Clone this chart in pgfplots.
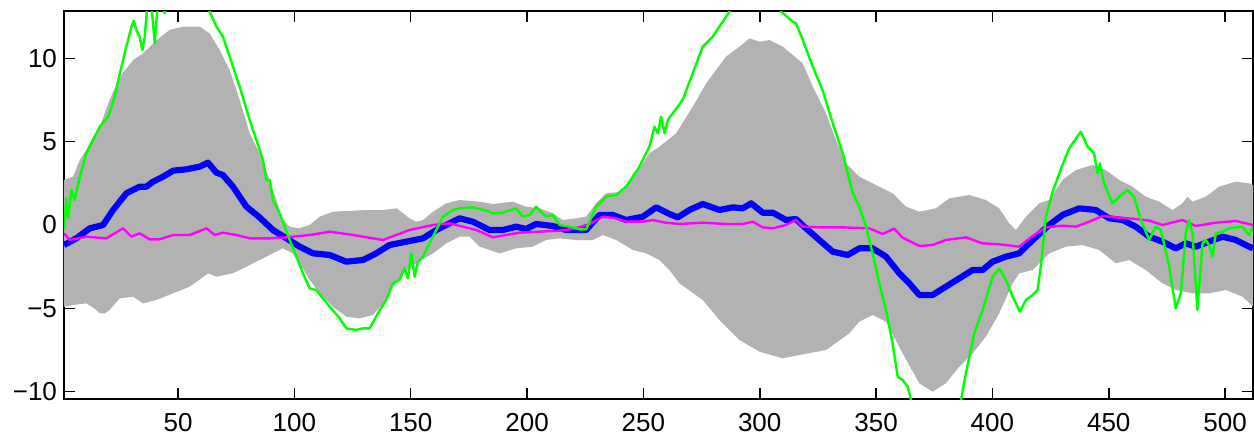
\documentclass[border=0pt]{standalone}
\usepackage{fontspec}
\setmainfont{Liberation Sans}
\usepackage{pgfplots}
\pgfplotsset{compat=1.18}
\usepgfplotslibrary{fillbetween}

\definecolor{bandgray}{rgb}{0.70,0.70,0.70}
\definecolor{pureblue}{rgb}{0,0,1}
\definecolor{puremagenta}{rgb}{1,0,1}
\definecolor{puregreen}{rgb}{0,1,0}

\begin{document}
\begin{tikzpicture}
\begin{axis}[
    scale only axis,
    width=594.5pt,
    height=194pt,
    xmin=1, xmax=512,
    ymin=-10.44, ymax=12.84,
    xtick={50,100,...,500},
    ytick={-10,-5,0,5,10},
    yticklabels={−10,−5,0,5,10},
    tick align=inside,
    major tick length=5.5pt,
    axis line style={line width=0.8pt},
    every tick/.style={black, line width=0.8pt},
    tick label style={font=\fontsize{13}{15}\selectfont},
    /pgf/number format/assume math mode=true,
    xticklabel shift=3.5pt,
    clip=true,
]

% spread band
\addplot[name path=upper, draw=none] coordinates {
(1,2.7)(4.9,2.9)(7.8,3.9)(10.6,4.5)(13.5,5.3)(16.4,5.9)(20.6,7.5)(25,8.9)(30.7,9.9)(35,10.3)
(40.8,11.1)(46.4,11.7)(52.2,11.9)(59.3,11.9)(63.6,11.5)(67.9,10.5)(72.2,9.3)(76.5,7.5)(80.8,5.5)
(85.1,4.3)(89.4,2.7)(92.3,1.5)(95,0.3)(98,-0.1)(102,-0.2)(106.6,0.0)(110.9,0.5)(116.6,0.8)
(123.7,0.85)(131,0.9)(138,0.9)(144,1.0)(146.7,0.7)(149.5,0.4)(152.4,0.2)(155.3,0.3)(159.6,0.8)
(165.3,1.3)(171,1.5)(179.6,1.4)(185.3,1.26)(193.9,1.4)(199.6,1.1)(205.4,1.0)(211.1,0.7)
(215.4,0.3)(221.1,0.4)(225.4,0.5)(229.7,1.3)(234,1.9)(241.2,2.0)(246.9,3.1)(252.6,4.3)
(256.9,4.7)(264.1,5.5)(271.2,7.1)(277,8.5)(285.5,10.1)(291.3,10.7)(295.6,11.2)(299.9,11.0)
(304.2,11.1)(309.9,10.7)(314.2,10.2)(318.5,9.7)(322.8,8.3)(328.5,6.7)(332.8,5.1)(337.1,3.7)
(342.8,2.9)(347.1,2.6)(351.4,2.3)(357.1,1.9)(362.9,1.1)(368.6,0.8)(375.7,1.0)(381.5,1.6)
(390.1,1.8)(397.2,1.5)(402.9,1.0)(407.2,0.1)(410.1,-0.3)(414.4,0.5)(420.1,1.3)(424.4,1.5)
(430.1,2.7)(435.9,3.3)(443,3.6)(448.7,3.3)(454.5,2.7)(460.2,2.3)(465.9,1.7)(471.7,1.4)
(477.4,0.9)(481.7,1.3)(483.8,1.7)(486,1.4)(491.7,1.7)(497.4,2.3)(504.6,2.6)(510.3,2.5)(512,2.4)
};
\addplot[name path=lower, draw=none] coordinates {
(1,-4.9)(5,-4.8)(10.6,-4.7)(14,-5.0)(16.4,-5.3)(18.5,-5.3)(20.6,-5.1)(23,-4.7)(25,-4.4)
(30.6,-4.3)(35,-4.7)(40.7,-4.5)(47.8,-4.1)(55,-3.7)(61,-3.1)(63,-2.9)(66.5,-3.1)(73.5,-2.9)
(79.4,-2.5)(85.1,-2.1)(90.7,-1.7)(95,-1.4)(99.3,-1.7)(102.3,-2.3)(106.6,-3.3)(110.9,-4.1)
(116.6,-4.9)(122.3,-5.5)(128,-5.6)(133.8,-5.4)(138.1,-4.7)(142.4,-3.7)(146.7,-2.9)(152.4,-2.3)
(159.6,-1.7)(165.3,-1.1)(171,-0.7)(175.3,-0.7)(179.6,-1.3)(188.2,-1.7)(195.3,-1.4)(202.5,-1.3)
(208.2,-0.9)(213.9,-0.8)(221.1,-0.9)(228.3,-0.9)(232.6,-0.6)(238.3,-0.9)(245.5,-1.5)(251.2,-1.7)
(256.9,-2.1)(261.2,-2.7)(265.5,-3.5)(275.5,-4.5)(282.7,-5.7)(291.3,-6.9)(299.9,-7.6)(309.9,-8.0)
(317,-7.8)(328.5,-7.5)(338.5,-6.5)(342.8,-5.8)(348.5,-5.4)(354.3,-5.8)(361.4,-7.7)(368.6,-9.5)
(374.3,-10.0)(380,-9.5)(385.8,-8.5)(391.5,-7.7)(397.2,-6.7)(402.9,-5.3)(408.7,-3.5)(411.5,-2.9)
(417.3,-2.7)(424.4,-1.7)(431.6,-1.3)(438.7,-1.2)(445.9,-1.5)(453,-2.3)(458.8,-2.1)(465.9,-2.7)
(473.1,-3.5)(478.8,-3.9)(486,-4.1)(493.1,-4.1)(500.3,-3.9)(507.5,-4.3)(512,-4.9)
};
\addplot[bandgray, draw=none] fill between[of=upper and lower];

% mean (thick blue)
\addplot[pureblue, line width=3.1pt, line join=round] coordinates {
(1,-1.2)(6.3,-0.8)(12.1,-0.2)(17.8,0.0)(22.1,0.9)(27.8,1.9)(33.5,2.3)(36.4,2.3)(39.3,2.6)
(43.6,2.9)(47.9,3.26)(53.6,3.34)(59.3,3.5)(62.9,3.74)(66.5,3.14)(69.3,3.0)(73.6,2.3)(79.4,1.1)
(85.1,0.45)(90.8,-0.3)(96.6,-0.8)(102.3,-1.3)(108,-1.7)(115.2,-1.8)(122.3,-2.2)(129.5,-2.1)
(135.2,-1.7)(140.9,-1.2)(148.1,-1.0)(155.3,-0.8)(161,-0.3)(166.7,0.1)(171,0.4)(176.7,0.2)
(183.9,-0.3)(189.6,-0.3)(195.3,-0.1)(199.6,-0.24)(203.9,0.06)(211.1,-0.06)(216.8,-0.3)
(225.4,-0.3)(231.1,0.6)(236.9,0.6)(242.6,0.3)(249.8,0.5)(255.5,1.06)(261.2,0.66)(264.8,0.46)
(269.8,0.9)(275.5,1.26)(282.7,0.9)(288.4,1.06)(292.7,1.0)(296.3,1.3)(301.3,0.74)(305.6,0.74)
(311.3,0.3)(315.6,0.36)(319.9,-0.2)(325.6,-0.9)(331.4,-1.6)(337.8,-1.8)(342.8,-1.4)(348.5,-1.4)
(354.3,-1.9)(360,-2.9)(364.3,-3.5)(368.6,-4.2)(374.3,-4.2)(380,-3.7)(385.8,-3.2)(391.5,-2.7)
(395.8,-2.7)(400.1,-2.2)(405.8,-1.9)(411.5,-1.7)(417.3,-0.9)(424.4,0.0)(430.1,0.6)(437.3,1.0)
(444.4,0.9)(450.2,0.4)(455.9,0.3)(461.6,-0.1)(467.4,-0.7)(473.1,-1.0)(478.8,-1.4)(483.1,-1.1)
(487.4,-1.3)(493.1,-1.0)(498.9,-0.7)(504.6,-0.9)(510.3,-1.3)(512,-1.4)
};

% magenta
\addplot[puremagenta, line width=1.2pt, line join=round] coordinates {
(1,-0.5)(3.5,-0.9)(10.6,-0.7)(19.2,-0.8)(26.4,-0.2)(30,-0.7)(33.5,-0.5)(37.8,-0.86)(42.1,-0.86)
(47.9,-0.6)(55,-0.6)(62.2,-0.2)(65.8,-0.6)(69.3,-0.46)(75,-0.6)(80.8,-0.8)(89.4,-0.8)(96.6,-0.74)
(106.6,-0.6)(115.2,-0.4)(125.2,-0.6)(138.1,-0.9)(143.8,-0.6)(149.5,-0.3)(159.6,0.0)(166.7,0.1)
(171,-0.05)(178.2,-0.3)(185.3,-0.74)(191,-0.6)(196.8,-0.46)(205.4,-0.4)(214,-0.34)(221.1,-0.2)
(226.8,0.06)(232.6,0.5)(238.3,0.4)(242.6,0.2)(249.8,0.2)(254.1,0.3)(259,0.15)(265.5,0.06)
(275.5,0.14)(285.5,0.06)(292.7,0.06)(297,0.2)(301.3,-0.14)(305.6,-0.2)(311.3,0.0)(315.6,0.3)
(318.5,-0.1)(325.6,-0.14)(335.7,-0.14)(347.1,-0.2)(352.8,-0.54)(357.8,-0.22)(361.4,-0.76)
(368.6,-1.26)(374.3,-1.2)(380,-0.9)(388.6,-0.74)(395.8,-1.1)(402.9,-1.16)(411.5,-1.3)
(417.3,-0.66)(423,-0.14)(430.1,-0.04)(435.9,-0.1)(441.6,0.2)(447.3,0.54)(453,0.46)(461.6,0.36)
(467.4,0.26)(473.1,0.0)(481.7,0.3)(487.4,-0.06)(496,0.14)(504.6,0.24)(512,0.0)
};

% green
\addplot[puregreen, line width=1.2pt, line join=round] coordinates {
(1,-0.3)(2,1.6)(2.8,0.4)(4.2,2.1)(5.6,1.5)(7.8,2.9)(10.6,4.3)(13.5,5.1)(16.4,5.9)(20,6.5)
(22.8,7.7)(25,9.1)(27.8,10.7)(30,11.9)(31,12.26)(32.1,11.7)(33.5,11.3)(34.7,10.5)(35.7,11.3)
(37,13.5)(38.5,13.3)(40,10.9)(41.4,13.5)(43,13.3)(44.3,12.7)(45.5,13.5)(50,15)(58,15)
(63.6,12.8)(66.5,11.9)(69.3,11.3)(72.2,10.1)(76.5,8.3)(80.8,6.3)(83.7,5.1)(86.5,3.9)(88,2.7)
(89.4,2.7)(90.8,1.5)(93.7,0.7)(98,-0.9)(100.9,-1.9)(103.7,-2.9)(106.6,-3.8)(109.4,-3.9)
(112.3,-4.4)(115.2,-4.9)(119.5,-5.6)(122.3,-6.2)(126.6,-6.3)(129.5,-6.2)(132.4,-6.2)(136.7,-5.1)
(139.5,-4.5)(142.4,-3.5)(145.2,-3.3)(147.4,-2.6)(148.8,-3.2)(150.3,-1.7)(151.7,-3.1)(153.1,-2.2)
(155.3,-1.9)(158.1,-1.1)(161,-0.3)(163.9,0.5)(168.2,0.9)(171,1.0)(176.7,1.06)(182.5,0.86)
(185.3,0.7)(189.6,0.74)(195.3,1.0)(198.2,0.5)(201.1,0.6)(203.9,1.1)(208.2,0.5)(211.1,0.6)
(214,0.0)(218.3,-0.1)(222.6,-0.26)(225.4,-0.26)(229.7,1.1)(234,1.7)(238.3,1.8)(242.6,2.3)
(248.3,3.5)(252.6,4.7)(254.8,5.9)(256.2,5.5)(257.6,6.5)(259.1,5.5)(260.5,6.3)(266.9,7.5)
(271.2,9.1)(275.5,10.7)(279.8,11.3)(284.1,12.2)(287,12.8)(292,14)(300,14.5)(306,13.5)
(309.2,12.8)(314.2,12.2)(315.6,12.1)(318.5,11.1)(322.8,9.5)(327,8.1)(331.4,6.1)(335.7,4.3)
(340,1.9)(342.8,1.1)(345.7,-0.1)(348.5,-1.7)(351.4,-3.5)(354.3,-5.1)(357.1,-7.1)(359.3,-9.1)
(361.4,-9.3)(363.6,-9.7)(365,-10.5)(370,-12)(377,-12.5)(383,-11.5)(386.5,-10.5)(388.6,-8.9)
(392.2,-6.5)(395.8,-5.1)(400.1,-3.1)(402.9,-2.6)(405.8,-3.3)(408.7,-4.3)(411.8,-5.2)(414.4,-4.5)
(417.3,-4.2)(419.4,-3.9)(420.8,-2.5)(423,0.5)(425.9,2.0)(430.1,3.6)(433,4.6)(438,5.6)(440.9,4.7)
(443.7,4.3)(445.2,3.1)(446.2,3.7)(448,2.5)(451.6,1.3)(454.5,1.7)(458,2.1)(460.9,1.7)(463.8,0.3)
(467.4,-0.9)(470.2,-0.1)(472.4,-0.3)(476,-2.5)(478.8,-5.0)(481,-4.1)(483.1,-0.5)(484.5,0.3)
(486,-0.5)(488.1,-5.1)(490.3,-1.1)(491.7,-0.9)(493.1,-1.2)(494.6,-1.9)(496,-0.5)(498.9,-0.4)
(501.7,-0.2)(507.5,-0.1)(510.3,-0.6)(512,-0.1)
};

\end{axis}
\pgfresetboundingbox
\useasboundingbox (-32pt,-20.5pt) rectangle (595pt,199.5pt);
\end{tikzpicture}
\end{document}
